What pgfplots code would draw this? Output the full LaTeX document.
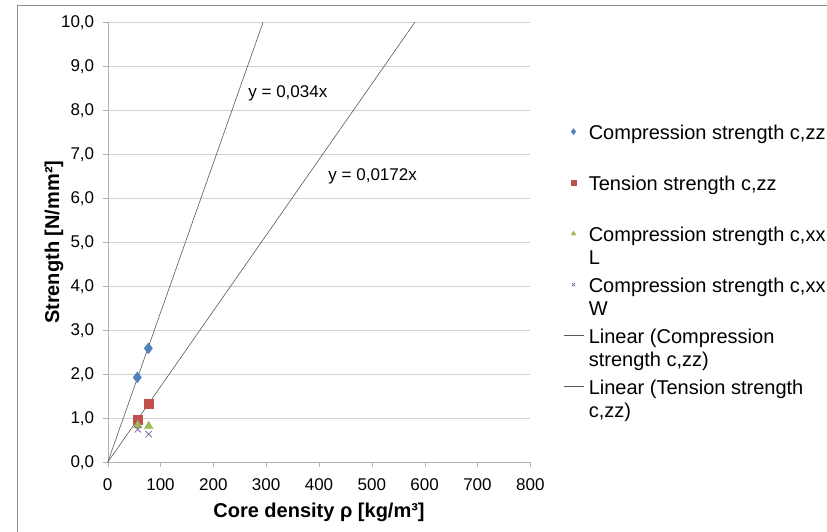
\documentclass[border=0pt]{standalone}
\usepackage{fontspec}
\setmainfont{Liberation Sans}
\usepackage{pgfplots}
\pgfplotsset{compat=1.18}
\definecolor{czz}{HTML}{4F81BD}
\definecolor{tzz}{HTML}{C0504D}
\definecolor{cxxl}{HTML}{9BBB59}
\definecolor{cxxw}{HTML}{8064A2}
\definecolor{trend}{HTML}{595959}
\begin{document}
\begin{tikzpicture}
\useasboundingbox (0pt,0pt) rectangle (827pt,532pt);
\draw[black!45] (17.3pt,-20pt) rectangle (850pt,526.3pt);
\begin{axis}[
 at={(107.7pt,69.7pt)}, anchor=south west,
 scale only axis, width=422.6pt, height=440pt,
 xmin=0, xmax=800, ymin=0, ymax=10,
 xtick={0,100,...,800}, ytick={0,1,...,10},
 axis lines*=left,
 axis line style={black!30},
 tick align=outside, major tick length=5pt,
 tick style={black!30},
 ymajorgrids, grid style={black!18},
 /pgf/number format/assume math mode=true,
 ticklabel style={font=\fontsize{17}{20}\selectfont},
 xticklabel style={yshift=-8pt},
 yticklabel style={xshift=-5pt, /pgf/number format/.cd, fixed, fixed zerofill, precision=1, use comma},
 xlabel={Core density ρ [kg/m³]},
 ylabel={Strength [N/mm²]},
 label style={font=\bfseries\fontsize{20}{23}\selectfont},
 xlabel style={at={(axis description cs:0.5,-0.1136)}, anchor=center},
 ylabel style={at={(axis description cs:-0.127,0.5)}, anchor=center},
 legend cell align=left,
 legend style={draw=none, fill=none, at={(1.0774,0.773)}, anchor=north west,
   inner sep=0pt, row sep=32.5pt, column sep=5pt,
   nodes={inner sep=0pt}, font=\fontsize{20}{23}\selectfont},
 legend image code/.code={\draw[mark repeat=2,mark phase=2,#1] plot coordinates {(0pt,0pt) (10pt,0pt) (20pt,0pt)};},
 legend image post style={every mark/.append style={scale=0.55}},
]
% Compression strength c,zz
\addplot[only marks, mark=diamond*, mark size=5.5pt, color=czz] coordinates {
 (56,1.93) (77,2.59)
};
\addlegendentry{\parbox[t]{250pt}{\rule{0pt}{17pt}Compression strength c,zz}}
% Tension strength c,zz
\addplot[only marks, mark=square*, mark size=4.5pt, color=tzz] coordinates {
 (57,0.97) (77.6,1.33)
};
\addlegendentry{\parbox[t]{250pt}{\rule{0pt}{17pt}Tension strength c,zz}}
% Compression strength c,xx L
\addplot[only marks, mark=triangle*, mark size=5pt, color=cxxl] coordinates {
 (57,0.84) (77.6,0.82)
};
\addlegendentry{\parbox[t]{250pt}{\rule{0pt}{17pt}Compression strength c,xx\\L}}
% Compression strength c,xx W
\addplot[only marks, mark=x, mark size=4.5pt, color=cxxw, line width=0.8pt] coordinates {
 (57,0.75) (77.6,0.64)
};
\addlegendentry{\parbox[t]{250pt}{\rule{0pt}{17pt}Compression strength c,xx\\W}}
% trend lines
\addplot[trend, line width=0.6pt, no marks] coordinates {(0,0) (294.1,10)};
\addlegendentry{\parbox[t]{250pt}{\rule{0pt}{17pt}Linear (Compression\\strength c,zz)}}
\addplot[trend, line width=0.6pt, no marks] coordinates {(0,0) (581.4,10)};
\addlegendentry{\parbox[t]{250pt}{\rule{0pt}{17pt}Linear (Tension strength\\c,zz)}}
\node[anchor=west, inner sep=0pt, font=\fontsize{17}{20}\selectfont] at (axis cs:266,8.39) {y = 0,034x};
\node[anchor=west, inner sep=0pt, font=\fontsize{17}{20}\selectfont] at (axis cs:417.6,6.49) {y = 0,0172x};
\end{axis}
\end{tikzpicture}
\end{document}
